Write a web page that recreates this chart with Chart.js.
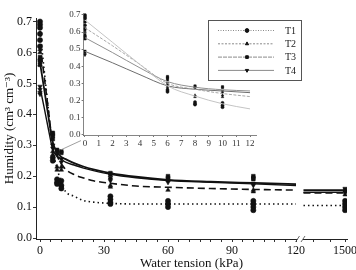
<!DOCTYPE html>
<html>
<head>
<meta charset="utf-8">
<script src="https://cdn.jsdelivr.net/npm/chart.js@4.4.0/dist/chart.umd.min.js"></script>
<style>
    html, body { margin: 0; padding: 0; background: #fff; }
    #wrap { position: relative; width: 356px; height: 270px; overflow: hidden; }
    #main { position: absolute; left: 0; top: 0; }
    #inset { position: absolute; left: 60px; top: 5px; }
</style>
</head>
<body>
<div id="wrap">
    <canvas id="main" width="356" height="270" style="width:356px;height:270px"></canvas>
    <canvas id="inset" width="296" height="150" style="width:296px;height:150px"></canvas>
</div>
<script>
// --- Data ---
const treatments = ['T1', 'T2', 'T3', 'T4'];

// fitted retention curves (water tension kPa -> humidity cm3 cm-3)
const fitTension = [0, 2, 4, 6, 8, 10, 12, 16, 20, 25, 33, 45, 60, 80, 100, 120];
const fitT1 = [0.67, 0.54, 0.41, 0.285, 0.225, 0.18, 0.15, 0.135, 0.122, 0.116, 0.112, 0.11, 0.11, 0.11, 0.11, 0.11];
const fitT2 = [0.625, 0.52, 0.41, 0.30, 0.265, 0.24, 0.222, 0.205, 0.195, 0.185, 0.177, 0.168, 0.164, 0.16, 0.157, 0.155];
const fitT3 = [0.567, 0.48, 0.39, 0.31, 0.277, 0.262, 0.255, 0.242, 0.232, 0.222, 0.21, 0.198, 0.188, 0.182, 0.178, 0.174];
const fitT4 = [0.487, 0.42, 0.35, 0.285, 0.265, 0.255, 0.245, 0.236, 0.227, 0.218, 0.206, 0.195, 0.186, 0.18, 0.175, 0.17];
// level of each curve in the 1500 kPa segment
const tail1500 = [0.105, 0.146, 0.155, 0.148];

// measured replicates at each tension
const obsTension = [0, 6, 8, 10, 33, 60, 100, 1500];
const obsT1 = [[0.70, 0.69, 0.68, 0.66, 0.64, 0.62], [0.26, 0.25], [0.19, 0.18, 0.175], [0.185, 0.17, 0.16],
    [0.135, 0.125, 0.115, 0.11], [0.12, 0.11, 0.10], [0.12, 0.11, 0.10, 0.09], [0.12, 0.11, 0.10, 0.09]];
const obsT2 = [[0.61, 0.60, 0.58, 0.56], [0.28, 0.27], [0.23, 0.22], [0.23, 0.22],
    [0.17, 0.165], [0.155], [0.155, 0.15], [0.14]];
const obsT3 = [[0.585, 0.575, 0.57, 0.56], [0.34, 0.335, 0.33, 0.32], [0.285, 0.28], [0.28, 0.275],
    [0.21, 0.205], [0.20, 0.195, 0.19], [0.20, 0.195, 0.19], [0.155, 0.15]];
const obsT4 = [[0.49, 0.48, 0.47, 0.465], [0.30, 0.29], [0.27], [0.255, 0.245],
    [0.195, 0.19, 0.185], [0.18], [0.175, 0.17], [0.16, 0.15]];

// axis ticks
const mainXLabels = [0, 30, 60, 90, 120];
const mainYTicks = [0, 0.1, 0.2, 0.3, 0.4, 0.5, 0.6, 0.7];
const insetXTicks = [0, 1, 2, 3, 4, 5, 6, 7, 8, 9, 10, 11, 12];

// broken axis: 1500 kPa is drawn just after 120
const POS_1500 = 143;
const TAIL_FROM = 123.5;
const TAIL_TO = 142;

const fits = [fitT1, fitT2, fitT3, fitT4];
const obs = [obsT1, obsT2, obsT3, obsT4];

const SERIF = '"Liberation Serif", "DejaVu Serif", serif';
const markerStyles = ['circle', 'triangle', 'rect', 'triangle'];
const markerRotation = [0, 0, 0, 180];

function curveData(values, tail, maxT) {
    const pts = [];
    fitTension.forEach((t, i) => { if (t <= maxT) pts.push({ x: t, y: values[i] }); });
    if (tail !== null) {
        pts.push({ x: 121, y: null });
        pts.push({ x: TAIL_FROM, y: tail }, { x: TAIL_TO, y: tail });
    }
    return pts;
}

function obsData(groups, maxT) {
    const pts = [];
    groups.forEach((vals, i) => {
        const t = obsTension[i];
        if (t > maxT) return;
        vals.forEach(v => pts.push({ x: t === 1500 ? POS_1500 : t, y: v }));
    });
    return pts;
}

// --- Main chart ---
const mainLineStyle = [
    { dash: [1.5, 3], width: 1.6 },
    { dash: [7, 4], width: 1.6 },
    { dash: [], width: 1.8 },
    { dash: [], width: 1.4 }
];

const mainDatasets = [];
treatments.forEach((name, i) => {
    mainDatasets.push({
        label: name + ' fit',
        data: curveData(fits[i], tail1500[i], 120),
        borderColor: '#111',
        borderWidth: mainLineStyle[i].width,
        borderDash: mainLineStyle[i].dash,
        pointRadius: 0,
        cubicInterpolationMode: 'monotone',
        fill: false
    });
});
treatments.forEach((name, i) => {
    mainDatasets.push({
        label: name,
        data: obsData(obs[i], 1500),
        showLine: false,
        pointStyle: markerStyles[i],
        rotation: markerRotation[i],
        pointRadius: 2.6,
        pointBackgroundColor: '#111',
        pointBorderColor: '#111',
        pointBorderWidth: 0.5
    });
});

// draws the // break on the x axis and the leader line to the inset
const mainDecor = {
    id: 'mainDecor',
    afterDraw(chart) {
        const ctx = chart.ctx;
        const xs = chart.scales.x;
        const ys = chart.scales.y;
        const axisY = chart.chartArea.bottom;
        const p = xs.getPixelForValue(120);
        ctx.save();
        ctx.fillStyle = '#fff';
        ctx.fillRect(p + 1.5, axisY - 3, 5.5, 7);
        ctx.strokeStyle = '#444';
        ctx.lineWidth = 0.8;
        [p + 1.5, p + 7].forEach(sx => {
            ctx.beginPath();
            ctx.moveTo(sx - 2, axisY + 3);
            ctx.lineTo(sx + 2, axisY - 3);
            ctx.stroke();
        });
        // leader line to the zoomed inset
        ctx.strokeStyle = '#888';
        ctx.lineWidth = 0.8;
        ctx.beginPath();
        ctx.moveTo(xs.getPixelForValue(9.8), ys.getPixelForValue(0.285));
        ctx.lineTo(xs.getPixelForValue(19.2), ys.getPixelForValue(0.315));
        ctx.stroke();
        ctx.restore();
    }
};

const xMainTicks = [];
for (let v = 0; v <= 120; v += 5) xMainTicks.push(v);
xMainTicks.push(128, 136, POS_1500);

new Chart(document.getElementById('main'), {
    type: 'line',
    data: { datasets: mainDatasets },
    options: {
        responsive: false,
        animation: false,
        layout: { padding: { top: 18, right: 9, left: 0, bottom: 0 } },
        plugins: { legend: { display: false }, tooltip: { enabled: false } },
        scales: {
            x: {
                type: 'linear',
                min: -1.875,
                max: 143.9,
                afterBuildTicks: s => { s.ticks = xMainTicks.map(v => ({ value: v })); },
                afterFit: s => { s.height = 31; s.paddingLeft = 0; s.paddingRight = 0; },
                grid: { drawOnChartArea: false, drawTicks: true, tickLength: 3, color: '#333' },
                border: { color: '#222', width: 1 },
                ticks: {
                    autoSkip: false,
                    maxRotation: 0,
                    padding: 2,
                    color: '#111',
                    font: { family: SERIF, size: 12 },
                    callback: v => v === POS_1500 ? '1500' : (mainXLabels.includes(v) ? String(v) : '')
                },
                title: {
                    display: true,
                    text: 'Water tension (kPa)',
                    color: '#111',
                    font: { family: SERIF, size: 13, lineHeight: 1 },
                    padding: { top: 0, bottom: 0 }
                }
            },
            y: {
                type: 'linear',
                min: -0.0032,
                max: 0.7113,
                afterBuildTicks: s => { s.ticks = mainYTicks.map(v => ({ value: v })); },
                afterFit: s => { s.width = 36; s.paddingTop = 0; s.paddingBottom = 0; },
                grid: { drawOnChartArea: false, drawTicks: true, tickLength: 3, color: '#333' },
                border: { color: '#222', width: 1 },
                ticks: {
                    padding: 1,
                    color: '#111',
                    font: { family: SERIF, size: 12 },
                    callback: v => v.toFixed(1)
                },
                title: {
                    display: true,
                    text: 'Humidity (cm³ cm⁻³)',
                    color: '#111',
                    font: { family: SERIF, size: 13, lineHeight: 1 },
                    padding: { top: 3, bottom: 0 }
                }
            }
        }
    },
    plugins: [mainDecor]
});

// --- Inset chart (0 - 12 kPa) ---
const insetLineColor = ['#c4c4c4', '#a8a8a8', '#909090', '#6e6e6e'];
const insetDash = [[], [3, 1.5], [], []];
const legendDash = [[1, 1.5], [2, 1.5], [4, 1], []];

const insetDatasets = [];
treatments.forEach((name, i) => {
    insetDatasets.push({
        label: name + ' fit',
        data: curveData(fits[i], null, 12),
        borderColor: insetLineColor[i],
        borderWidth: 1,
        borderDash: insetDash[i],
        pointRadius: 0,
        cubicInterpolationMode: 'monotone',
        fill: false
    });
});
treatments.forEach((name, i) => {
    insetDatasets.push({
        label: name,
        data: obsData(obs[i], 12),
        showLine: false,
        pointStyle: markerStyles[i],
        rotation: markerRotation[i],
        pointRadius: 1.6,
        pointBackgroundColor: '#111',
        pointBorderColor: '#111',
        pointBorderWidth: 0.4
    });
});

// legend box drawn to the right of the inset plot
const insetLegend = {
    id: 'insetLegend',
    afterDraw(chart) {
        const ctx = chart.ctx;
        const boxX = 148, boxY = 15, boxW = 93, boxH = 60;
        ctx.save();
        ctx.fillStyle = '#fff';
        ctx.fillRect(boxX, boxY, boxW, boxH);
        ctx.strokeStyle = '#555';
        ctx.lineWidth = 1;
        ctx.strokeRect(boxX + 0.5, boxY + 0.5, boxW, boxH);
        treatments.forEach((name, i) => {
            const rowY = boxY + 10.5 + i * 13.3;
            ctx.strokeStyle = '#8a8a8a';
            ctx.lineWidth = 1;
            ctx.setLineDash(legendDash[i]);
            ctx.beginPath();
            ctx.moveTo(boxX + 10, rowY);
            ctx.lineTo(boxX + 66, rowY);
            ctx.stroke();
            ctx.setLineDash([]);
            ctx.fillStyle = '#111';
            ctx.strokeStyle = '#111';
            Chart.helpers.drawPoint(ctx, {
                pointStyle: markerStyles[i], radius: 1.9, rotation: markerRotation[i], borderWidth: 0.4
            }, boxX + 39, rowY);
            ctx.fillStyle = '#222';
            ctx.font = '10px ' + SERIF;
            ctx.textBaseline = 'middle';
            ctx.fillText(name, boxX + 77, rowY + 0.5);
        });
        ctx.restore();
    }
};

new Chart(document.getElementById('inset'), {
    type: 'line',
    data: { datasets: insetDatasets },
    options: {
        responsive: false,
        animation: false,
        layout: { padding: { top: 8, right: 99.1, left: 0, bottom: 0 } },
        plugins: { legend: { display: false }, tooltip: { enabled: false } },
        scales: {
            x: {
                type: 'linear',
                min: -0.1,
                max: 12.5,
                afterBuildTicks: s => { s.ticks = insetXTicks.map(v => ({ value: v })); },
                afterFit: s => { s.height = 20; s.paddingLeft = 0; s.paddingRight = 0; },
                grid: { drawOnChartArea: false, drawTicks: true, tickLength: 2, color: '#777' },
                border: { color: '#666', width: 0.8 },
                ticks: {
                    autoSkip: false,
                    maxRotation: 0,
                    padding: 1,
                    color: '#333',
                    font: { family: SERIF, size: 9 },
                    callback: v => String(v)
                }
            },
            y: {
                type: 'linear',
                min: -0.003,
                max: 0.7117,
                afterBuildTicks: s => { s.ticks = mainYTicks.map(v => ({ value: v })); },
                afterFit: s => { s.width = 23.6; s.paddingTop = 0; s.paddingBottom = 0; },
                grid: { drawOnChartArea: false, drawTicks: true, tickLength: 2, color: '#777' },
                border: { color: '#666', width: 0.8 },
                ticks: {
                    padding: 1,
                    color: '#333',
                    font: { family: SERIF, size: 9 },
                    callback: v => v.toFixed(1)
                }
            }
        }
    },
    plugins: [insetLegend]
});
</script>
</body>
</html>
